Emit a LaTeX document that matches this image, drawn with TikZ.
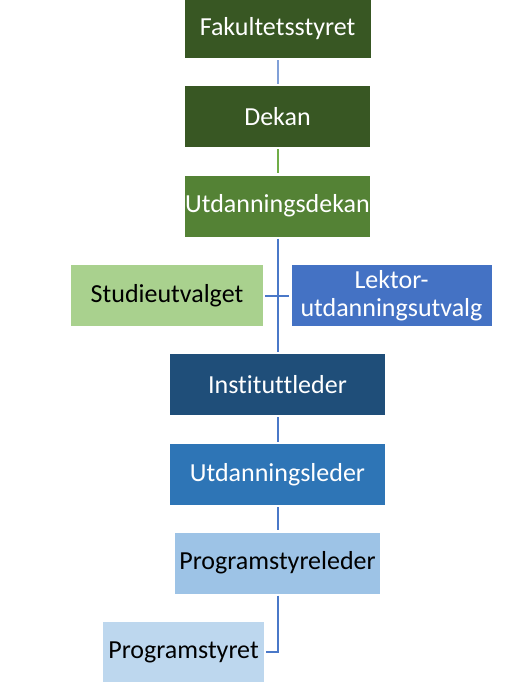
\documentclass[tikz,border=0pt]{standalone}
\usepackage{fontspec}
\setmainfont{Carlito}[Ligatures=NoCommon]
\usepackage{tikz}
\definecolor{darkgreen}{HTML}{385723}
\definecolor{midgreen}{HTML}{548235}
\definecolor{lightgreen}{HTML}{A9D18E}
\definecolor{accentblue}{HTML}{4472C4}
\definecolor{navyblue}{HTML}{1F4E79}
\definecolor{midblue}{HTML}{2E75B6}
\definecolor{paleblue}{HTML}{9DC3E6}
\definecolor{paleblue2}{HTML}{BDD7EE}
\definecolor{linkblue}{HTML}{4A78C8}
\definecolor{linkgreen}{HTML}{70AD47}
\tikzset{
    unit/.style={minimum height=61pt, inner sep=0pt, font=\fontsize{26}{29}\selectfont, align=center},
    link/.style={line width=2pt, linkblue, shorten <=2pt, shorten >=2pt}
}

\begin{document}
\begin{tikzpicture}[x=1pt,y=-1pt]
    \useasboundingbox (0,0) rectangle (530,682);
    % Ledelse
    \node[unit, fill=darkgreen, text=white, minimum width=186pt, minimum height=58pt] (fak) at (277.5,29) {Fakultetsstyret};
    \node[unit, fill=darkgreen, text=white, minimum width=185pt] (dekan) at (277.5,116.5) {Dekan};
    \node[unit, fill=midgreen, text=white, minimum width=185pt] (udekan) at (277.5,206) {Utdanningsdekan};
    % Utvalg
    \node[unit, fill=lightgreen, text=black, minimum width=192pt] (studie) at (167,295.5) {Studieutvalget};
    \node[unit, fill=accentblue, text=white, minimum width=200pt, font=\fontsize{26}{28}\selectfont] (lektor) at (391.5,295.5) {Lektor-\\utdanningsutvalg};
    % Institutt
    \node[unit, fill=navyblue, text=white, minimum width=215pt] (inst) at (277.5,384.5) {Instituttleder};
    \node[unit, fill=midblue, text=white, minimum width=215pt] (uleder) at (277.5,474.5) {Utdanningsleder};
    \node[unit, fill=paleblue, text=black, minimum width=205pt] (psleder) at (277.5,563) {Programstyreleder};
    \node[unit, fill=paleblue2, text=black, minimum width=161pt] (pstyret) at (183.5,652) {Programstyret};
    % Linjer
    \draw[link, linkblue!70] (fak) -- (dekan);
    \draw[link, linkgreen] (dekan) -- (udekan);
    \draw[link] (udekan) -- (inst);
    \draw[link] (studie) -- (lektor);
    \draw[link] (inst) -- (uleder);
    \draw[link] (uleder) -- (psleder);
    \draw[link] (psleder.south) |- (pstyret.east);
\end{tikzpicture}
\end{document}
